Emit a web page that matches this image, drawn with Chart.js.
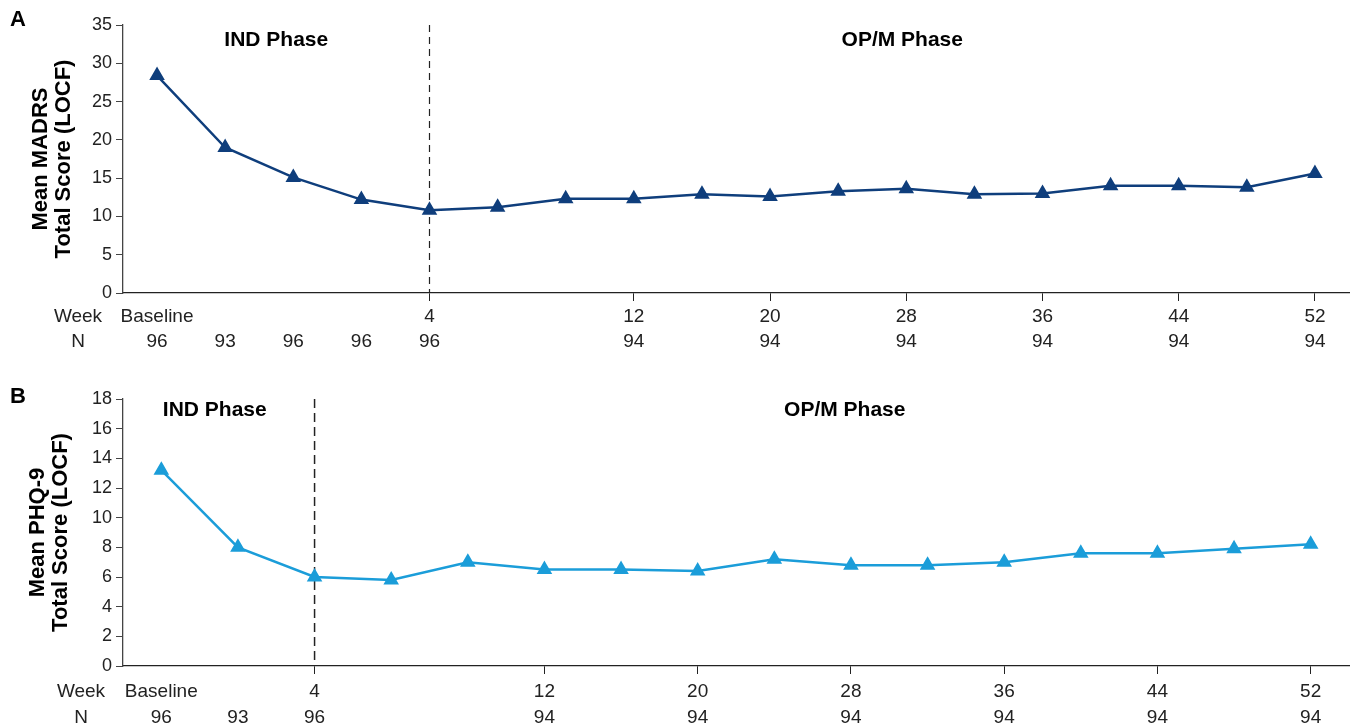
<!DOCTYPE html>
<html>
<head>
<meta charset="utf-8">
<script src="https://cdn.jsdelivr.net/npm/chart.js@4.4.1/dist/chart.umd.min.js"></script>
<style>
  body { margin: 0; background: #fff; }
  .wrap { position: absolute; left: 0; width: 1358px; }
  #wrapA { top: 0; height: 365px; }
  #wrapB { top: 380px; height: 347px; }
</style>
</head>
<body>
<div class="wrap" id="wrapA"><canvas id="chartA"></canvas></div>
<div class="wrap" id="wrapB"><canvas id="chartB"></canvas></div>
<script>
// panel A - MADRS
const weeksA = ["Baseline", "", "", "", "4", "", "", "12", "", "20", "", "28", "", "36", "", "44", "", "52"];
const countsA = ["96", "93", "96", "96", "96", "", "", "94", "", "94", "", "94", "", "94", "", "94", "", "94"];
const madrs = [28.4, 19.0, 15.1, 12.2, 10.8, 11.2, 12.3, 12.3, 12.9, 12.6, 13.3, 13.6, 12.9, 13.0, 14.0, 14.0, 13.8, 15.6];

// panel B - PHQ-9
const weeksB = ["Baseline", "", "4", "", "", "12", "", "20", "", "28", "", "36", "", "44", "", "52"];
const countsB = ["96", "93", "96", "", "", "94", "", "94", "", "94", "", "94", "", "94", "", "94"];
const phq9 = [13.2, 8.0, 6.0, 5.8, 7.0, 6.5, 6.5, 6.4, 7.2, 6.8, 6.8, 7.0, 7.6, 7.6, 7.9, 8.2];

const FONT = "'Liberation Sans', Arial, sans-serif";
const TICK_LEN = 8;

const panelPlugin = {
  id: "panel",
  beforeDatasetsDraw(chart, args, opts) {
    const { ctx, chartArea } = chart;
    const x = chart.scales.x.getPixelForValue(opts.dashAt);
    ctx.save();
    ctx.strokeStyle = "#222";
    ctx.lineWidth = opts.dashWidth;
    ctx.setLineDash(opts.dash);
    ctx.beginPath();
    ctx.moveTo(x, chartArea.top);
    ctx.lineTo(x, chartArea.bottom);
    ctx.stroke();
    ctx.restore();
  },
  afterDraw(chart, args, opts) {
    const { ctx, chartArea } = chart;
    const xs = chart.scales.x;
    const dashX = xs.getPixelForValue(opts.dashAt);
    ctx.save();
    ctx.fillStyle = "#000";
    ctx.textBaseline = "middle";

    // panel letter
    ctx.font = "bold 22px " + FONT;
    ctx.textAlign = "left";
    ctx.fillText(opts.letter, 10, opts.letterY);

    // phase labels
    ctx.font = "bold 21px " + FONT;
    ctx.textAlign = "center";
    ctx.fillText("IND Phase", (chartArea.left + dashX) / 2 - opts.indShift, opts.phaseY);
    ctx.fillText("OP/M Phase", (dashX + chartArea.right) / 2 + 13, opts.phaseY);

    // row headers
    ctx.font = "19px " + FONT;
    ctx.fillStyle = "#222";
    const y0 = xs.top + TICK_LEN + opts.tickPad + opts.lineH / 2;
    ctx.fillText("Week", opts.rowX, y0);
    ctx.fillText("N", opts.rowX, y0 + opts.lineH);

    // y title
    ctx.fillStyle = "#000";
    ctx.font = "bold 22px " + FONT;
    const cy = (chartArea.top + chartArea.bottom) / 2;
    ctx.translate(opts.titleX, cy);
    ctx.rotate(-Math.PI / 2);
    ctx.fillText(opts.title[0], 0, 0);
    ctx.fillText(opts.title[1], 0, 23);
    ctx.restore();
  }
};

function makeChart(id, weeks, counts, values, color, yMax, yStep, xHeight, top, panelOpts) {
  return new Chart(document.getElementById(id), {
    type: "line",
    data: {
      labels: weeks.map((w, i) => i),
      datasets: [{
        data: values,
        borderColor: color,
        backgroundColor: color,
        borderWidth: 2.5,
        pointStyle: "triangle",
        pointRadius: 6.5,
        pointHoverRadius: 6.5,
        tension: 0
      }]
    },
    options: {
      responsive: true,
      maintainAspectRatio: false,
      animation: false,
      events: [],
      layout: { padding: { top: top, right: 8, left: 0, bottom: 0 } },
      plugins: {
        legend: { display: false },
        tooltip: { enabled: false },
        panel: panelOpts
      },
      scales: {
        x: {
          type: "category",
          offset: true,
          afterFit: (s) => { s.height = xHeight; },
          border: { display: true, color: "#222", width: 1.3 },
          grid: {
            display: true,
            drawOnChartArea: false,
            drawTicks: true,
            tickLength: TICK_LEN,
            tickColor: (c) => (weeks[c.index] && weeks[c.index] !== "Baseline") ? "#222" : "rgba(0,0,0,0)"
          },
          ticks: {
            autoSkip: false,
            maxRotation: 0,
            padding: panelOpts.tickPad,
            color: "#222",
            font: { family: FONT, size: 19, lineHeight: panelOpts.lineH / 19 },
            callback: (v, i) => [weeks[i], counts[i]]
          }
        },
        y: {
          min: 0,
          max: yMax,
          afterFit: (s) => { s.width = 123; },
          border: { display: true, color: "#444", width: 1.3 },
          grid: { display: true, drawOnChartArea: false, tickLength: 7, tickColor: "#444" },
          ticks: {
            stepSize: yStep,
            padding: 4,
            color: "#222",
            font: { family: FONT, size: 18 }
          }
        }
      }
    },
    plugins: [panelPlugin]
  });
}

makeChart("chartA", weeksA, countsA, madrs, "#0f3e7c", 35, 5, 72, 25, {
  letter: "A", letterY: 20, phaseY: 40, dashAt: 4, indShift: 0, rowX: 78,
  tickPad: 3, lineH: 25, dash: [7, 5], dashWidth: 1.2,
  titleX: 41, title: ["Mean MADRS", "Total Score (LOCF)"]
});

makeChart("chartB", weeksB, countsB, phq9, "#1b9dd9", 18, 2, 61, 19, {
  letter: "B", letterY: 17, phaseY: 30, dashAt: 2, indShift: 4, rowX: 81,
  tickPad: 5, lineH: 26, dash: [9, 5], dashWidth: 1.5,
  titleX: 38, title: ["Mean PHQ-9", "Total Score (LOCF)"]
});
</script>
</body>
</html>
